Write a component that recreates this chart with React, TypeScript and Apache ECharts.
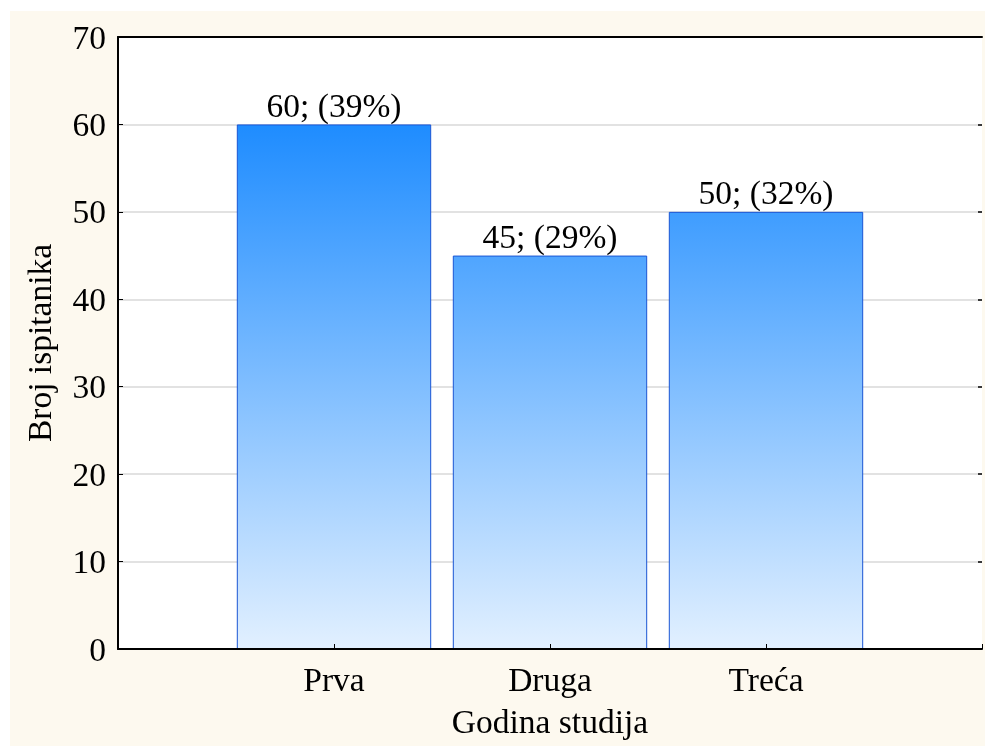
import React, { useEffect, useRef } from "react";
import * as echarts from "echarts";

const categories = ["Prva", "Druga", "Treća"];
const counts = [60, 45, 50];
const percents = [39, 29, 32];
const yTicks = [0, 10, 20, 30, 40, 50, 60, 70];

const FONT = "'Liberation Serif', 'Times New Roman', serif";
const FS = 33.5;

export default function App() {
  const ref = useRef<HTMLDivElement>(null);
  useEffect(() => {
    if (!ref.current) return;
    const chart = echarts.init(ref.current, null, { renderer: "svg" });
    const cats = ["", ...categories, ""];
    const data = ["-", ...counts, "-"];
    const option = {
      animation: false,
      backgroundColor: "transparent",
      graphic: [
        {
          type: "rect",
          z: -10,
          shape: { x: 10, y: 11, width: 975, height: 735 },
          style: { fill: "#fdf9ef" },
          silent: true,
        },
      ],
      grid: {
        left: 118,
        right: 0,
        top: 37,
        bottom: 97,
        show: true,
        backgroundColor: "#ffffff",
        borderWidth: 0,
      },
      xAxis: [
        {
          type: "category",
          data: cats,
          boundaryGap: false,
          position: "bottom",
          z: 5,
          name: "Godina studija",
          nameLocation: "middle",
          nameGap: 55,
          nameTextStyle: { fontFamily: FONT, fontSize: FS, color: "#000" },
          axisLine: { show: true, onZero: false, lineStyle: { color: "#000", width: 2 } },
          axisTick: { show: true, inside: true, length: 5, lineStyle: { color: "#000", width: 1 } },
          axisLabel: { fontFamily: FONT, fontSize: FS, color: "#000", margin: 13, interval: 0 },
          splitLine: { show: false },
        },
        {
          type: "category",
          data: cats,
          boundaryGap: false,
          position: "top",
          z: 5,
          axisLine: { show: true, onZero: false, lineStyle: { color: "#000", width: 2 } },
          axisTick: { show: false },
          axisLabel: { show: false },
          splitLine: { show: false },
        },
      ],
      yAxis: [
        {
          type: "value",
          min: 0,
          max: 70,
          interval: 10,
          position: "left",
          name: "Broj ispitanika",
          nameLocation: "middle",
          nameGap: 62,
          nameTextStyle: { fontFamily: FONT, fontSize: FS, color: "#000" },
          axisLine: { show: true, onZero: false, lineStyle: { color: "#000", width: 2 } },
          axisTick: { show: true, inside: true, length: 5, lineStyle: { color: "#000", width: 1 } },
          axisLabel: {
            fontFamily: FONT,
            fontSize: FS,
            color: "#000",
            margin: 12,
            formatter: (v: number) => (yTicks.includes(v) ? String(v) : ""),
          },
          splitLine: { show: true, lineStyle: { color: "#d8d8d8", width: 1.5 } },
        },
        {
          type: "value",
          min: 0,
          max: 70,
          interval: 10,
          position: "right",
          axisLine: { show: false, onZero: false },
          axisTick: { show: true, inside: true, length: 4, lineStyle: { color: "#000", width: 1.5 } },
          axisLabel: { show: false },
          splitLine: { show: false },
        },
      ],
      series: [
        {
          type: "bar",
          xAxisIndex: 0,
          yAxisIndex: 0,
          data: data,
          barWidth: "90%",
          itemStyle: {
            color: new echarts.graphic.LinearGradient(
              0,
              124,
              0,
              649,
              [
                { offset: 0, color: "#1e8cff" },
                { offset: 1, color: "#e2f0ff" },
              ],
              true
            ),
            borderColor: "#1a55d4",
            borderWidth: 1,
          },
          label: {
            show: true,
            position: "top",
            distance: 2,
            fontFamily: FONT,
            fontSize: FS,
            color: "#000",
            formatter: (p: any) => {
              const i = p.dataIndex - 1;
              return `${counts[i]}; (${percents[i]}%)`;
            },
          },
        },
      ],
    };
    chart.setOption(option as any);
    return () => chart.dispose();
  }, []);
  return (
    <div
      ref={ref}
      style={{ position: "fixed", left: 0, top: 0, width: 985, height: 746 }}
    />
  );
}
